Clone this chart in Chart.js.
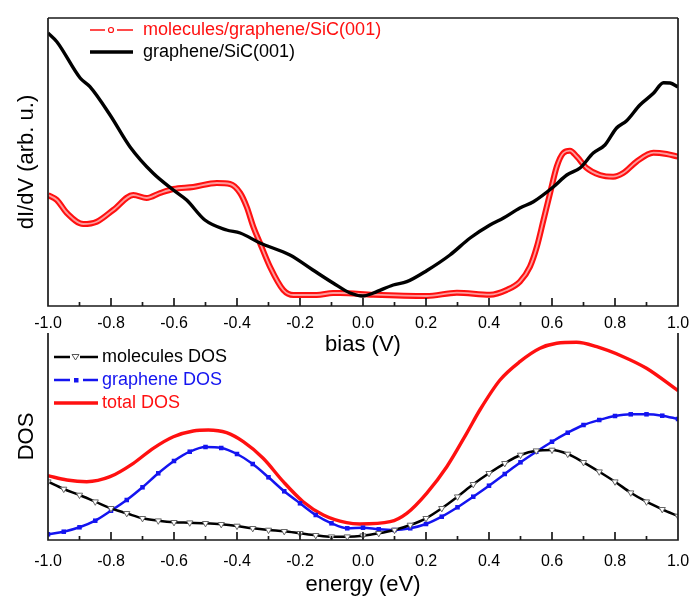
<!DOCTYPE html>
<html><head><meta charset="utf-8">
<script src="https://cdn.jsdelivr.net/npm/chart.js@4.4.1/dist/chart.umd.min.js"></script>
<style>
html,body{margin:0;padding:0;background:#fff;}
#wrap{position:relative;width:692px;height:599px;overflow:hidden;background:#fff;}
#c1{position:absolute;left:0;top:0;width:692px;height:360px;}
#c2{position:absolute;left:0;top:300px;width:692px;height:299px;}
</style></head><body>
<div id="wrap"><canvas id="c1" width="692" height="360"></canvas><canvas id="c2" width="692" height="299"></canvas></div>
<script>
// ---------- data: top panel (dI/dV vs bias) ----------
const biasGraphene = [-1.0,-0.972,-0.898,-0.867,-0.803,-0.740,-0.666,-0.602,-0.560,-0.502,-0.433,-0.390,-0.327,-0.232,-0.159,-0.095,-0.041,0.0,0.033,0.096,0.139,0.202,0.276,0.340,0.403,0.446,0.498,0.541,0.604,0.647,0.689,0.731,0.768,0.805,0.837,0.879,0.922,0.954,0.975,1.0];
const didvGraphene = [273,264.3,228,219.3,191,159.3,132.7,116,106,86,76,73,63,51,36,23,13,10,13,21,24.3,35.3,51,68,81,88,98,104.3,119,131,138,153,161,178,185.3,201,212.7,223.3,223,219];
const biasMolecules = [-1.0,-0.972,-0.94,-0.888,-0.845,-0.793,-0.729,-0.687,-0.644,-0.602,-0.539,-0.464,-0.422,-0.390,-0.369,-0.348,-0.327,-0.295,-0.253,-0.221,-0.147,-0.095,-0.073,0.033,0.202,0.298,0.403,0.456,0.498,0.530,0.552,0.573,0.594,0.615,0.636,0.657,0.679,0.710,0.752,0.794,0.826,0.868,0.922,0.964,1.0];
const didvMolecules = [111,106,93,82,84.3,96,111,108,113,117,119,123,122,113,99,79,63,39,16,11,11,13,13,11.3,10,13.3,11.3,16,24.3,39.3,59.3,86,113,139.3,153,155.3,149.3,138,131,129.3,133,144.3,153.3,152,149.3];

// ---------- data: bottom panel (DOS vs energy) ----------
const energyGrid = [-1.0,-0.95,-0.9,-0.85,-0.8,-0.75,-0.7,-0.65,-0.6,-0.55,-0.5,-0.45,-0.4,-0.35,-0.3,-0.25,-0.2,-0.15,-0.1,-0.05,0.0,0.05,0.1,0.15,0.2,0.25,0.3,0.35,0.4,0.45,0.5,0.55,0.6,0.65,0.7,0.75,0.8,0.85,0.9,0.95,1.0];
const dosMolecules = [58.3,51,45,38.3,31.7,26.7,21.7,19.3,17.7,17.3,16.7,15.7,14,11.7,10,8.7,6.7,4.7,3.3,3.3,4.3,6.7,10,15,21.7,31.7,43.3,55.7,66.7,76.7,85,89.3,90,86,77.7,68.3,58.3,47.3,38.3,30.7,24];
const dosGraphene = [5.7,8.3,12.7,19.3,29.3,40,52.7,66.7,79,88.3,93,92,86,76,62.7,48.7,36.7,25,16.7,11.7,12.3,10.7,10,11.7,16,23.3,32.7,43.3,54.3,66,77.7,88.3,98.3,107.3,115,120,124,125.7,125.7,124.3,121];
const energyTotal = [-1.0,-0.94,-0.877,-0.803,-0.729,-0.666,-0.602,-0.539,-0.491,-0.433,-0.380,-0.317,-0.253,-0.190,-0.126,-0.052,-0.010,0.086,0.139,0.202,0.266,0.329,0.371,0.435,0.498,0.562,0.615,0.678,0.742,0.826,0.900,1.0];
const dosTotal = [64.3,60,58.3,63.3,76.7,91.7,103.3,109,110,107.3,98.3,81.7,58.3,38.3,25,17.3,16,18.3,26.7,46.7,73.3,106.7,130,160,178.3,191.7,196.7,197.7,193.3,183.3,171.7,149.3];

// ---------- labels ----------
const topLabels = ['molecules/graphene/SiC(001)', 'graphene/SiC(001)'];
const bottomLabels = ['molecules DOS', 'graphene DOS', 'total DOS'];
const xTitleTop = 'bias (V)', yTitleTop = 'dI/dV (arb. u.)';
const xTitleBottom = 'energy (eV)', yTitleBottom = 'DOS';

const zip = (xs, ys) => xs.map((x, i) => ({x, y: ys[i]}));

const FONT = '"Liberation Sans", Arial, Helvetica, sans-serif';
Chart.defaults.font.family = FONT;
Chart.defaults.color = '#000';

const RED = '#ff1010', BLUE = '#1414f0', BLACK = '#000';

function sym(w, h, draw) {
  const c = document.createElement('canvas');
  c.width = w; c.height = h;
  const g = c.getContext('2d');
  draw(g);
  return c;
}
const symMolTop = sym(80, 12, g => {
  g.strokeStyle = RED; g.lineWidth = 1.7;
  g.beginPath(); g.moveTo(37, 6); g.lineTo(52, 6); g.moveTo(64, 6); g.lineTo(80, 6); g.stroke();
  g.lineWidth = 1.2; g.beginPath(); g.arc(58, 6, 2.5, 0, Math.PI * 2); g.stroke();
});
const symGrTop = sym(80, 12, g => {
  g.strokeStyle = BLACK; g.lineWidth = 3.4;
  g.beginPath(); g.moveTo(37, 6); g.lineTo(80, 6); g.stroke();
});
const symMolBot = sym(50, 12, g => {
  g.strokeStyle = BLACK; g.lineWidth = 2.4;
  g.beginPath(); g.moveTo(6, 6); g.lineTo(22, 6); g.moveTo(32, 6); g.lineTo(50, 6); g.stroke();
  g.fillStyle = '#fff'; g.strokeStyle = '#555'; g.lineWidth = 1;
  g.beginPath(); g.moveTo(24, 3.5); g.lineTo(31, 3.5); g.lineTo(27.5, 9); g.closePath(); g.fill(); g.stroke();
});
const symGrBot = sym(50, 12, g => {
  g.strokeStyle = BLUE; g.lineWidth = 2.6;
  g.beginPath(); g.moveTo(6, 6); g.lineTo(22, 6); g.moveTo(35, 6); g.lineTo(50, 6); g.stroke();
  g.fillStyle = BLUE; g.fillRect(26, 4, 4.5, 4.5);
});
const symTotBot = sym(50, 12, g => {
  g.strokeStyle = RED; g.lineWidth = 3.4;
  g.beginPath(); g.moveTo(6, 6); g.lineTo(50, 6); g.stroke();
});

function tickLabel(v) {
  const k = Math.round(v * 10);
  return k % 2 === 0 ? (k / 10).toFixed(1) : '';
}

// frame lines and inward tick marks, placed through the chart's own scales
const framePlugin = {
  id: 'frame',
  afterDraw(chart) {
    const ctx = chart.ctx;
    const x = chart.scales.x, y = chart.scales.y;
    const L = x.getPixelForValue(-1), R = x.getPixelForValue(1);
    const T = y.getPixelForValue(y.max), B = y.getPixelForValue(y.min);
    const drawTop = chart.canvas.id === 'c1';
    ctx.save();
    ctx.strokeStyle = '#1a1a1a';
    ctx.lineWidth = 1.7;
    ctx.beginPath();
    if (drawTop) { ctx.moveTo(L, T); ctx.lineTo(R, T); }
    ctx.moveTo(L, T); ctx.lineTo(L, B); ctx.lineTo(R, B); ctx.lineTo(R, T);
    x.ticks.forEach(t => {
      const px = x.getPixelForValue(t.value);
      const major = Math.round(t.value * 10) % 2 === 0;
      ctx.moveTo(px, B); ctx.lineTo(px, B - (major ? 8 : 4));
    });
    ctx.stroke();
    ctx.restore();
  }
};

function legendLabels(chart) {
  return chart.data.datasets
    .map((d, i) => ({text: d.label, fillStyle: 'rgba(0,0,0,0)', strokeStyle: 'rgba(0,0,0,0)', lineWidth: 0,
      pointStyle: d.legendSymbol, fontColor: d.legendColor, datasetIndex: i, hidden: false}))
    .filter(it => it.text);
}

function xScale(title, pad, height, titlePadB) {
  return {
    type: 'linear', min: -1, max: 1,
    ticks: {stepSize: 0.1, autoSkip: false, maxRotation: 0, padding: pad, font: {size: 16}, color: '#000', callback: tickLabel},
    grid: {display: false, drawTicks: false},
    border: {display: false},
    title: {display: true, text: title, font: {size: 22}, color: '#000', padding: {top: 0, bottom: titlePadB}},
    afterFit(s) { s.height = height; s.paddingLeft = 0; s.paddingRight = 0; }
  };
}
function yScale(title, max) {
  return {
    min: 0, max: max,
    ticks: {display: false},
    grid: {display: false, drawTicks: false},
    border: {display: false},
    title: {display: true, text: title, font: {size: 22}, color: '#000', padding: {top: 14, bottom: 0}},
    afterFit(s) { s.width = 48; }
  };
}

new Chart(document.getElementById('c1'), {
  type: 'line',
  data: {
    datasets: [
      {label: topLabels[0], data: zip(biasMolecules, didvMolecules), borderColor: RED, borderWidth: 6,
       pointRadius: 0, cubicInterpolationMode: 'monotone', order: 3, legendSymbol: symMolTop, legendColor: RED},
      {label: '', data: zip(biasMolecules, didvMolecules), borderColor: '#ff9c9c', borderWidth: 1.8,
       pointRadius: 0, cubicInterpolationMode: 'monotone', order: 2},
      {label: topLabels[1], data: zip(biasGraphene, didvGraphene), borderColor: BLACK, borderWidth: 3.4,
       pointRadius: 0, cubicInterpolationMode: 'monotone', order: 1, legendSymbol: symGrTop, legendColor: BLACK}
    ]
  },
  options: {
    responsive: false, animation: false, events: [],
    layout: {padding: {left: 0, right: 14, top: 18, bottom: 0}},
    scales: {x: xScale(xTitleTop, 8, 54, 2), y: yScale(yTitleTop, 288)},
    plugins: {
      tooltip: {enabled: false},
      legend: {
        position: 'chartArea', align: 'start',
        title: {display: true, text: ' ', font: {size: 17, lineHeight: 1}, padding: 0},
        labels: {usePointStyle: true, pointStyleWidth: 82, padding: 4, font: {size: 18}, generateLabels: legendLabels,
                 sort: (a, b) => a.datasetIndex - b.datasetIndex}
      }
    }
  },
  plugins: [framePlugin]
});

new Chart(document.getElementById('c2'), {
  type: 'line',
  data: {
    datasets: [
      {label: bottomLabels[0], data: zip(energyGrid, dosMolecules), borderColor: BLACK, borderWidth: 2.5,
       pointStyle: 'triangle', rotation: 180, pointRadius: 3.6, pointBackgroundColor: '#fff', pointBorderColor: '#666', pointBorderWidth: 1,
       cubicInterpolationMode: 'monotone', legendSymbol: symMolBot, legendColor: BLACK},
      {label: bottomLabels[1], data: zip(energyGrid, dosGraphene), borderColor: BLUE, borderWidth: 2.5,
       pointStyle: 'rect', pointRadius: 3.2, pointBackgroundColor: BLUE, pointBorderColor: BLUE, pointBorderWidth: 0,
       cubicInterpolationMode: 'monotone', legendSymbol: symGrBot, legendColor: BLUE},
      {label: bottomLabels[2], data: zip(energyTotal, dosTotal), borderColor: RED, borderWidth: 3.4,
       pointRadius: 0, cubicInterpolationMode: 'monotone', legendSymbol: symTotBot, legendColor: RED}
    ]
  },
  options: {
    responsive: false, animation: false, events: [],
    layout: {padding: {left: 0, right: 14, top: 33, bottom: 0}},
    scales: {x: xScale(xTitleBottom, 12, 59, 1), y: yScale(yTitleBottom, 207)},
    plugins: {
      tooltip: {enabled: false},
      legend: {
        position: 'chartArea', align: 'start',
        title: {display: true, text: ' ', font: {size: 43, lineHeight: 1}, padding: 0},
        labels: {usePointStyle: true, pointStyleWidth: 40, padding: 5, font: {size: 18}, generateLabels: legendLabels}
      }
    }
  },
  plugins: [framePlugin]
});
</script>
</body></html>
